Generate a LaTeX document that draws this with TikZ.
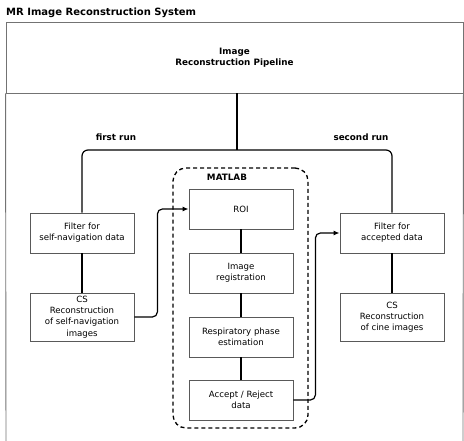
\documentclass[tikz,border=0pt]{standalone}
\usepackage{fontspec}
\setmainfont{DejaVu Sans}
\usetikzlibrary{arrows.meta}
\begin{document}
\begin{tikzpicture}[x=1pt,y=-1pt,
  every node/.style={font=\fontsize{8.6}{11.2}\selectfont, align=center, inner sep=0pt},
  procbox/.style={draw=black!65, line width=0.8pt, minimum width=104pt, minimum height=40pt},
  bigbox/.style={procbox, minimum height=48pt},
  conn/.style={draw=black, line width=1.2pt},
  arr/.style={conn, -{Latex[length=6pt,width=5pt]}, rounded corners=5pt},
  frame/.style={draw=black!55, line width=0.9pt},
  boldlab/.style={font=\fontsize{8.8}{11}\selectfont\bfseries}]
\useasboundingbox (0,0) rectangle (464,441);
% title
\node[anchor=west, font=\fontsize{10}{12}\selectfont\bfseries] (title) at (6,13) {MR Image Reconstruction System};
% outer frame
\node[frame, minimum width=457pt, minimum height=71pt, boldlab] (pipe) at (234.5,57.5) {Image\\Reconstruction Pipeline};
\draw[frame] (pipe.south west) -- (6,450);
\draw[frame] (pipe.south east) -- (463,450);
% labels
\node[boldlab] (first) at (116,137) {first run};
\node[boldlab] (second) at (361,137) {second run};
% MATLAB container
\node[draw=black, dashed, dash pattern=on 4pt off 3pt, line width=1.3pt, rounded corners=13pt, minimum width=135pt, minimum height=260pt] (matlab) at (240.5,298) {};
\node[boldlab] (matlablab) at (227,177) {MATLAB};
% boxes
\node[procbox] (f1) at (82,233) {Filter for\\self-navigation data};
\node[bigbox] (cs1) at (82,317) {CS\\Reconstruction\\of self-navigation\\images};
\node[procbox] (roi) at (241,209) {ROI};
\node[procbox] (reg) at (241,273) {Image\\registration};
\node[procbox] (resp) at (241,337) {Respiratory phase\\estimation};
\node[procbox] (acc) at (241,400) {Accept / Reject\\data};
\node[procbox] (f2) at (392,233) {Filter for\\accepted data};
\node[bigbox] (cs2) at (392,317) {CS\\Reconstruction\\of cine images};
% connectors
\coordinate (split) at (237,150);
\draw[conn] (split |- pipe.south) -- (split);
\draw[conn, rounded corners=6pt] (f1.north) |- (split) -| (f2.north);
\draw[conn] (f1) -- (cs1);
\draw[conn] (f2) -- (cs2);
\draw[conn] (roi) -- (reg);
\draw[conn] (reg) -- (resp);
\draw[conn] (resp) -- (acc);
\draw[arr] (cs1.east) -- ++(23,0) |- (roi.west);
\draw[arr] (acc.east) -- ++(22,0) |- (f2.west);
\end{tikzpicture}
\end{document}
